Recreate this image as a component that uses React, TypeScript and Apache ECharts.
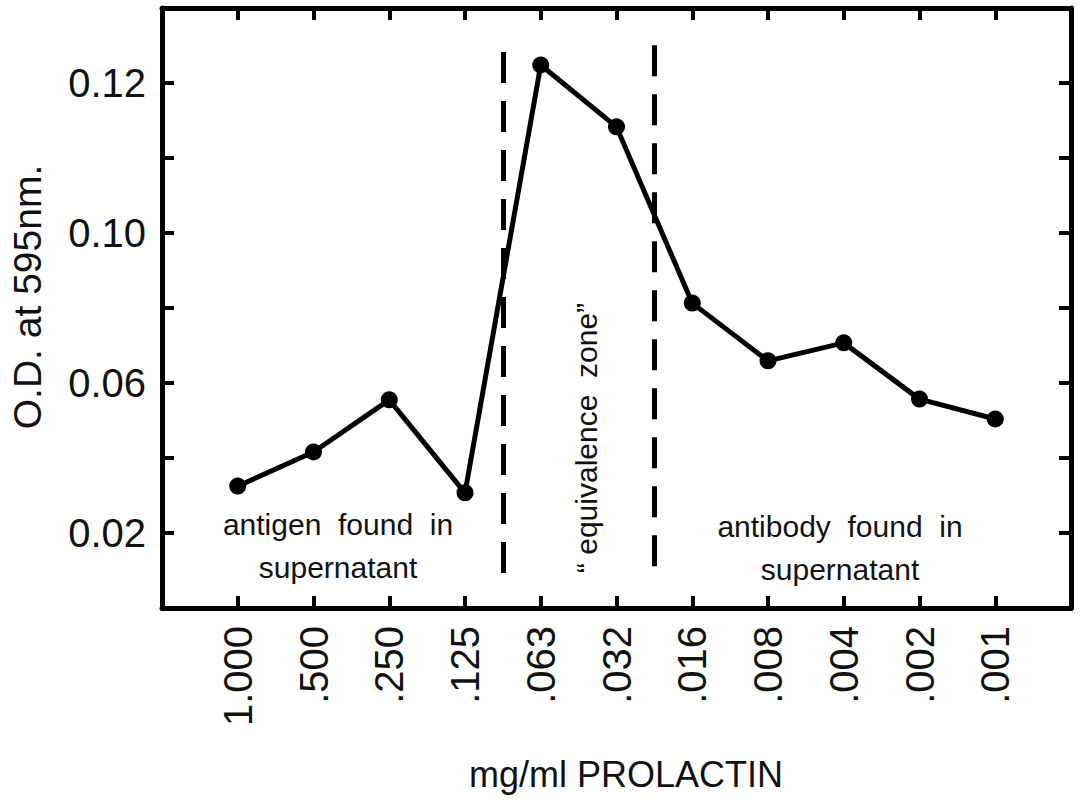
import React, { useEffect, useRef } from "react";
import * as echarts from "echarts";

// ---- data ----
const concentrations = [
  "1.000", ".500", ".250", ".125", ".063", ".032", ".016", ".008", ".004", ".002", ".001",
];
const odValues = [
  0.0325, 0.0416, 0.0555, 0.0307, 0.1448, 0.1283, 0.0813, 0.0659, 0.0707, 0.0557, 0.0504,
];
const yTickLabels = ["", "0.02", "", "0.06", "", "0.10", "", "0.12", ""];
const zoneBoundaries = [4.5, 6.5];
const boundaryTops = [0.1483, 0.1501];
const boundaryBottom = 0.0088;
const leftNote = "antigen  found  in\nsupernatant";
const rightNote = "antibody  found  in\nsupernatant";
const zoneNote = "\u201C equivalence  zone\u201D";
const yTitle = "O.D. at 595nm.";
const xTitle = "mg/ml PROLACTIN";

const FONT = "'Liberation Sans', Arial, sans-serif";
const INK = "#111";

export default function App() {
  const ref = useRef<HTMLDivElement>(null);

  useEffect(() => {
    if (!ref.current) return;
    const chart = echarts.init(ref.current, undefined, { renderer: "svg" });

    const axisLine = { show: true, onZero: false, lineStyle: { color: "#000", width: 5 } };
    const axisTick = { show: true, inside: true, length: 12, lineStyle: { color: "#000", width: 4 } };

    chart.setOption({
      animation: false,
      backgroundColor: "#fff",
      grid: { left: 162, right: 10, top: 8, bottom: 193, containLabel: false },
      xAxis: [
        {
          type: "value",
          min: 0,
          max: 12,
          interval: 1,
          position: "bottom",
          axisLine,
          axisTick,
          splitLine: { show: false },
          axisLabel: {
            rotate: 90,
            margin: 18,
            fontSize: 40,
            color: INK,
            fontFamily: FONT,
            formatter: (v: number) => concentrations[Math.round(v) - 1] ?? "",
          },
        },
        {
          type: "value",
          min: 0,
          max: 12,
          interval: 1,
          position: "top",
          axisLine,
          axisTick,
          splitLine: { show: false },
          axisLabel: { show: false },
        },
      ],
      yAxis: [
        {
          type: "value",
          min: 0,
          max: 0.16,
          interval: 0.02,
          position: "left",
          axisLine,
          axisTick,
          splitLine: { show: false },
          axisLabel: {
            margin: 16,
            fontSize: 40,
            color: INK,
            fontFamily: FONT,
            formatter: (v: number) => yTickLabels[Math.round(v / 0.02)] ?? "",
          },
        },
        {
          type: "value",
          min: 0,
          max: 0.16,
          interval: 0.02,
          position: "right",
          axisLine,
          axisTick,
          splitLine: { show: false },
          axisLabel: { show: false },
        },
      ],
      series: [
        {
          type: "line",
          data: odValues.map((v, i) => [i + 1, v]),
          symbol: "circle",
          symbolSize: 17,
          lineStyle: { color: "#000", width: 5 },
          itemStyle: { color: "#000" },
          markLine: {
            silent: true,
            symbol: ["none", "none"],
            label: { show: false },
            lineStyle: { color: "#000", width: 5, type: [31, 18] },
            data: zoneBoundaries.map((x, i) => [
              { coord: [x, boundaryTops[i]] },
              { coord: [x, boundaryBottom] },
            ]),
          },
        },
      ],
      graphic: [
        {
          type: "text",
          x: 338,
          y: 546,
          style: {
            text: leftNote,
            fontSize: 30,
            lineHeight: 43,
            fontFamily: FONT,
            fill: INK,
            align: "center",
            verticalAlign: "middle",
          },
        },
        {
          type: "text",
          x: 840,
          y: 548,
          style: {
            text: rightNote,
            fontSize: 30,
            lineHeight: 43,
            fontFamily: FONT,
            fill: INK,
            align: "center",
            verticalAlign: "middle",
          },
        },
        {
          type: "text",
          x: 586,
          y: 438,
          rotation: Math.PI / 2,
          style: {
            text: zoneNote,
            fontSize: 30,
            fontFamily: FONT,
            fill: INK,
            align: "center",
            verticalAlign: "middle",
          },
        },
        {
          type: "text",
          x: 27,
          y: 297,
          rotation: Math.PI / 2,
          style: {
            text: yTitle,
            fontSize: 39,
            fontFamily: FONT,
            fill: INK,
            align: "center",
            verticalAlign: "middle",
          },
        },
        {
          type: "text",
          x: 626,
          y: 774,
          style: {
            text: xTitle,
            fontSize: 36,
            fontFamily: FONT,
            fill: INK,
            align: "center",
            verticalAlign: "middle",
          },
        },
      ],
    });

    return () => chart.dispose();
  }, []);

  return (
    <div
      ref={ref}
      style={{ position: "fixed", left: 0, top: 0, width: 1081, height: 801, background: "#fff" }}
    />
  );
}
